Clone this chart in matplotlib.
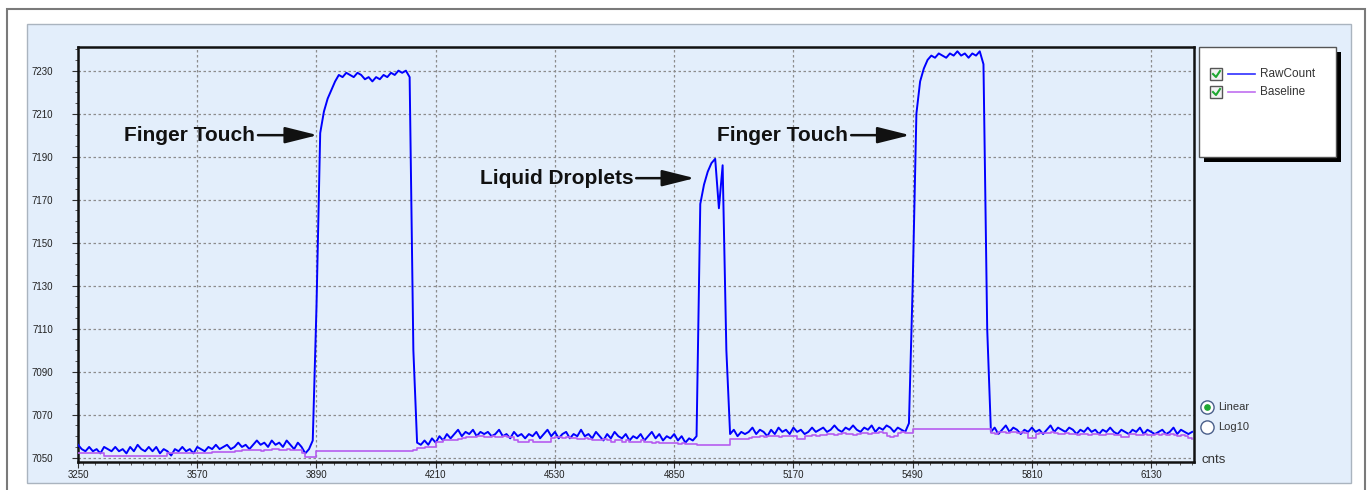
#%%
# raw count / baseline trace
import numpy as np
import matplotlib.pyplot as plt
from matplotlib.patches import Rectangle
from matplotlib.lines import Line2D
import matplotlib.ticker as mticker

plt.rcParams['font.family'] = ['Liberation Sans', 'DejaVu Sans']

W, H = 1370, 490

# sample positions (cnts), one every 10
cnts = np.arange(3250, 6250, 10)

raw_count = [
    7056, 7054, 7053, 7055, 7053, 7054, 7052, 7055, 7054, 7053,
    7055, 7053, 7054, 7052, 7055, 7053, 7056, 7054, 7053, 7055,
    7053, 7055, 7052, 7054, 7053, 7051, 7054, 7053, 7055, 7053,
    7054, 7052, 7055, 7054, 7053, 7055, 7054, 7056, 7054, 7055,
    7056, 7054, 7055, 7057, 7055, 7056, 7054, 7056, 7058, 7056,
    7057, 7055, 7058, 7056, 7057, 7055, 7058, 7056, 7054, 7057,
    7055, 7052, 7054, 7058, 7120, 7201, 7211, 7217, 7221, 7225,
    7228, 7227, 7229, 7228, 7227, 7229, 7228, 7226, 7227, 7225,
    7227, 7226, 7228, 7227, 7229, 7228, 7230, 7229, 7230, 7227,
    7100, 7057, 7056, 7058, 7056, 7059, 7057, 7060, 7058, 7061,
    7059, 7061, 7063, 7060, 7062, 7061, 7063, 7060, 7062, 7061,
    7062, 7060, 7061, 7063, 7060, 7061, 7059, 7062, 7060, 7061,
    7059, 7061, 7060, 7062, 7059, 7061, 7063, 7060, 7062, 7059,
    7061, 7062, 7059, 7061, 7060, 7063, 7060, 7061, 7059, 7062,
    7060, 7058, 7061, 7059, 7062, 7060, 7059, 7061, 7058, 7060,
    7059, 7061, 7058, 7060, 7062, 7059, 7061, 7058, 7060, 7059,
    7061, 7058, 7060, 7057, 7059, 7058, 7060, 7168, 7177, 7183,
    7187, 7189, 7166, 7186, 7100, 7061, 7063, 7060, 7062, 7061,
    7062, 7064, 7061, 7063, 7062, 7060, 7063, 7061, 7064, 7062,
    7063, 7061, 7064, 7062, 7063, 7061, 7062, 7064, 7062, 7063,
    7064, 7062, 7063, 7065, 7063, 7062, 7064, 7063, 7065, 7063,
    7062, 7064, 7063, 7065, 7062, 7064, 7063, 7065, 7064, 7062,
    7064, 7063, 7062, 7066, 7130, 7210, 7225, 7231, 7235, 7237,
    7236, 7238, 7237, 7236, 7238, 7237, 7239, 7237, 7238, 7236,
    7238, 7237, 7239, 7233, 7110, 7062, 7064, 7061, 7063, 7065,
    7062, 7064, 7063, 7061, 7063, 7062, 7064, 7062, 7063, 7061,
    7063, 7065, 7062, 7064, 7063, 7062, 7064, 7063, 7061, 7063,
    7062, 7064, 7062, 7063, 7061, 7063, 7062, 7064, 7062, 7061,
    7063, 7062, 7061, 7063, 7062, 7064, 7061, 7063, 7062, 7061,
    7062, 7063, 7061, 7062, 7064, 7061, 7063, 7062, 7061, 7062,
]

baseline = [
    7052, 7052, 7052, 7052, 7052, 7052, 7052, 7051, 7051, 7051,
    7051, 7051, 7051, 7051, 7051, 7051, 7051, 7051, 7051, 7051,
    7051, 7051, 7051, 7051, 7052, 7052, 7052, 7052, 7052, 7052,
    7052, 7052, 7052, 7052, 7052, 7052, 7052.5, 7052.5, 7052.5, 7052.5,
    7052.5, 7052.5, 7053, 7053, 7053.5, 7053.5, 7053.5, 7053.5, 7053.5, 7053,
    7053.5, 7053.5, 7054, 7054, 7053.5, 7053.5, 7054, 7053.5, 7053.5, 7053.5,
    7052, 7050.5, 7050.5, 7050.5, 7053, 7053, 7053, 7053, 7053, 7053,
    7053, 7053, 7053, 7053, 7053, 7053, 7053, 7053, 7053, 7053,
    7053, 7053, 7053, 7053, 7053, 7053, 7053, 7053, 7053, 7053,
    7053.5, 7054.5, 7054.5, 7055, 7055, 7055, 7057.5, 7057.5, 7058, 7058,
    7058, 7058, 7058.5, 7059, 7059.5, 7059.5, 7059.5, 7060, 7060, 7059.5,
    7059.5, 7060, 7059.5, 7059.5, 7060, 7059.5, 7059.5, 7058, 7057.5, 7057.5,
    7057.5, 7058, 7057.5, 7057.5, 7057.5, 7057.5, 7057.5, 7059, 7059.5, 7059.5,
    7059, 7059.5, 7059, 7059, 7058.5, 7058.5, 7059, 7058.5, 7058, 7058,
    7058, 7058.5, 7058, 7057.5, 7058, 7058, 7057.5, 7058, 7057.5, 7057.5,
    7057.5, 7058, 7057.5, 7057.5, 7057, 7057.5, 7057, 7057, 7057, 7057,
    7057, 7056.5, 7057, 7056.5, 7056.5, 7056.5, 7056, 7056, 7056, 7056,
    7056, 7056, 7056, 7056, 7056, 7058.5, 7058.5, 7058.5, 7058.5, 7058.5,
    7059, 7059.5, 7059.5, 7060, 7059.5, 7060, 7060, 7060, 7059.5, 7060,
    7060, 7060, 7060, 7058.5, 7058.5, 7060, 7060, 7060.5, 7060, 7060.5,
    7060.5, 7061, 7061, 7060.5, 7061, 7061.5, 7061, 7061, 7060.5, 7061,
    7061.5, 7061.5, 7061, 7061.5, 7061.5, 7062, 7061.5, 7060, 7059.5, 7060,
    7061.5, 7062, 7061.5, 7061.5, 7063.5, 7063.5, 7063.5, 7063.5, 7063.5, 7063.5,
    7063.5, 7063.5, 7063.5, 7063.5, 7063.5, 7063.5, 7063.5, 7063.5, 7063.5, 7063.5,
    7063.5, 7063.5, 7063.5, 7063.5, 7063.5, 7061.5, 7061, 7062, 7062, 7061.5,
    7062, 7062, 7061.5, 7062, 7061.5, 7059, 7059, 7061, 7061.5, 7061.5,
    7061.5, 7062, 7061.5, 7061, 7061, 7061.5, 7061, 7061, 7060.5, 7061,
    7061, 7060.5, 7061, 7061, 7060.5, 7060.5, 7061, 7061, 7060.5, 7060.5,
    7059.5, 7059.5, 7061, 7061, 7060.5, 7060.5, 7061, 7060.5, 7060.5, 7061,
    7060.5, 7061, 7060.5, 7061, 7060.5, 7060, 7060.5, 7060, 7059, 7058.5,
]

x_ticks = [3250, 3570, 3890, 4210, 4530, 4850, 5170, 5490, 5810, 6130]
y_ticks = [7050, 7070, 7090, 7110, 7130, 7150, 7170, 7190, 7210, 7230]

# (label, text right end, arrow tip, y)
notes = [
    ('Finger Touch', 3725, 3893, 7200),
    ('Liquid Droplets', 4740, 4905, 7180),
    ('Finger Touch', 5317, 5483, 7200),
]

#%%
# figure + panel frames
def fx(x):
    return x / W

def fy(y):
    return 1 - y / H

fig = plt.figure(figsize=(W / 100, H / 100), dpi=100)
fig.patch.set_facecolor('white')

fig.add_artist(Rectangle((fx(7), -0.05), fx(1365) - fx(7), fy(9) + 0.05,
                         transform=fig.transFigure, fill=False,
                         edgecolor='#7a7a7a', lw=1.5, zorder=-3))
fig.add_artist(Rectangle((fx(27), fy(483)), fx(1351) - fx(27), fy(24) - fy(483),
                         transform=fig.transFigure, facecolor='#e3eefb',
                         edgecolor='#aab4bf', lw=1, zorder=-2))

ax = fig.add_axes([fx(78), fy(462), fx(1194) - fx(78), fy(47) - fy(462)])
ax.set_facecolor('#e3eefb')

ax.plot(cnts, raw_count, color='#0000ff', lw=1.4, zorder=3)
ax.plot(cnts, baseline, color='#b65cf0', lw=1.2, drawstyle='steps-post', zorder=4)

ax.set_xlim(3250, 6245)
ax.set_ylim(7048, 7241)
ax.set_xticks(x_ticks)
ax.set_yticks(y_ticks)
ax.xaxis.set_minor_locator(mticker.MultipleLocator(32))
ax.yaxis.set_minor_locator(mticker.MultipleLocator(5))
ax.grid(True, which='major', color='#8c8c8c', ls=(0, (2, 2)), lw=0.9)
ax.tick_params(which='major', length=4, width=0.8, color='#333333',
               labelsize=7, labelcolor='#222222')
ax.tick_params(which='minor', length=2.5, width=0.7, color='#555555')
ax.tick_params(axis='x', pad=2)
ax.tick_params(axis='y', pad=14)
for s in ax.spines.values():
    s.set_linewidth(1.8)
    s.set_color('#111111')

for label, tx, tip, y in notes:
    ax.text(tx, y, label, ha='right', va='center', fontsize=15,
            fontweight='bold', color='#111111')
    ax.annotate('', xy=(tip, y), xytext=(tx + 8, y),
                arrowprops=dict(arrowstyle='-|>,head_length=1.0,head_width=0.25',
                                mutation_scale=20, color='#111111', lw=1.8,
                                shrinkA=0, shrinkB=0))

#%%
# legend box + radio buttons
fig.add_artist(Rectangle((fx(1204), fy(162)), fx(1341) - fx(1204), fy(52) - fy(162),
                         transform=fig.transFigure, facecolor='black', lw=0))
fig.add_artist(Rectangle((fx(1199), fy(157)), fx(1336) - fx(1199), fy(47) - fy(157),
                         transform=fig.transFigure, facecolor='white',
                         edgecolor='#555555', lw=1))

for y, name, col in [(74, 'RawCount', '#3030ff'), (92, 'Baseline', '#c070f0')]:
    fig.add_artist(Rectangle((fx(1210), fy(y + 6)), fx(1222) - fx(1210), fy(y - 6) - fy(y + 6),
                             transform=fig.transFigure, facecolor='#f2f2f2',
                             edgecolor='#555555', lw=1))
    fig.add_artist(Line2D([fx(1213), fx(1216), fx(1220)], [fy(y), fy(y + 3), fy(y - 3)],
                          transform=fig.transFigure, color='#1fa832', lw=1.5))
    fig.add_artist(Line2D([fx(1228), fx(1255)], [fy(y), fy(y)],
                          transform=fig.transFigure, color=col, lw=1.2))
    fig.text(fx(1260), fy(y), name, ha='left', va='center', fontsize=8.5, color='#333333')

for y, name, on in [(407, 'Linear', True), (427, 'Log10', False)]:
    fig.add_artist(Line2D([fx(1207)], [fy(y)], transform=fig.transFigure, marker='o',
                          markersize=9.5, mfc='white', mec='#4a5f8a', mew=1))
    if on:
        fig.add_artist(Line2D([fx(1207)], [fy(y)], transform=fig.transFigure, marker='o',
                              markersize=3.8, mfc='#1fa832', mec='#1fa832'))
    fig.text(fx(1218), fy(y), name, ha='left', va='center', fontsize=8, color='#333333')

fig.text(fx(1202), fy(460), 'cnts', ha='left', va='center', fontsize=9.5, color='#333333')

fig.savefig('out.png', dpi=100)
